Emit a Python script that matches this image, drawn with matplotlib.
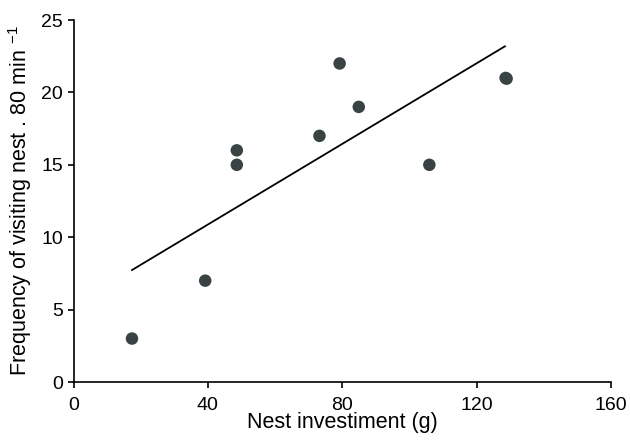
import matplotlib
matplotlib.use("Agg")
import matplotlib.pyplot as plt
import numpy as np

plt.rcParams['font.family'] = ['Liberation Sans', 'DejaVu Sans']

nest_investment = [17.4, 39.2, 48.6, 48.6, 73.2, 79.2, 84.9, 105.9, 128.6, 128.9]
visit_frequency = [3.0, 7.0, 15.0, 16.0, 17.0, 22.0, 19.0, 15.0, 21.0, 20.95]
fit_x_range = [17.4, 128.4]
fit_slope = 0.1392
fit_intercept = 5.31
x_ticks = [0, 40, 80, 120, 160]
y_ticks = [0, 5, 10, 15, 20, 25]

fig = plt.figure(figsize=(6.3, 4.4), dpi=100)
ax = fig.add_axes([0.1167, 0.1318, 0.8533, 0.8227])

ax.scatter(nest_investment, visit_frequency, s=(12.5 * 0.72) ** 2, color='#3a4343',
           zorder=3, edgecolors='none')
fx = np.array(fit_x_range)
ax.plot(fx, fit_slope * fx + fit_intercept, color='black', lw=1.3, zorder=2)

ax.set_xlim(0, 160)
ax.set_ylim(0, 25)
ax.set_xticks(x_ticks)
ax.set_yticks(y_ticks)
for s in ['top', 'right']:
    ax.spines[s].set_visible(False)
for s in ['left', 'bottom']:
    ax.spines[s].set_linewidth(1.2)
    ax.spines[s].set_clip_on(False)
ax.tick_params(direction='out', length=4.5, width=1.2, labelsize=14)
ax.tick_params(axis='x', pad=6)
ax.tick_params(axis='y', pad=3)
ax.set_xlabel('Nest investiment (g)', fontsize=15.5, labelpad=-1)
ax.set_ylabel(r'Frequency of visiting nest . 80 min $^{\mathregular{-1}}$', fontsize=15.5, labelpad=5)

fig.savefig('out.png', dpi=100)
